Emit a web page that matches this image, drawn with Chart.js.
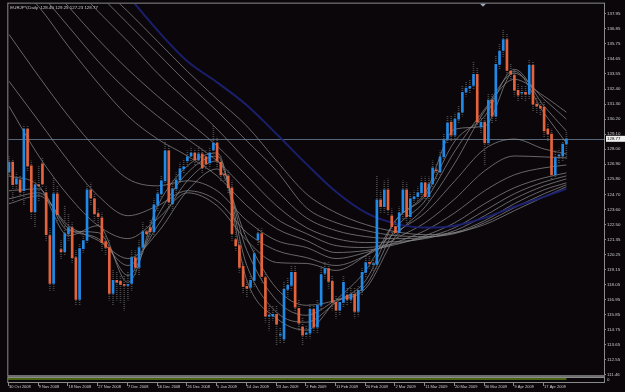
<!DOCTYPE html>
<html>
<head>
<meta charset="utf-8">
<script src="https://cdn.jsdelivr.net/npm/chart.js@4.4.0/dist/chart.umd.min.js"></script>
<style>
  html, body { margin: 0; padding: 0; background: #0a060a; }
  canvas { display: block; }
</style>
</head>
<body>
<canvas id="chart" width="625" height="392"></canvas>
<script>
// EURJPY daily, 30 Oct 2008 .. late Apr 2009 (one entry per bar)
const symbolName = 'EURJPY,Daily';

const openPrices = [
  126.34, 127.07, 125.47, 125.76, 124.96, 129.48, 126.78, 123.42, 125.40, 126.93,
  124.81, 121.67, 118.17, 124.74, 120.65, 120.50, 121.82, 122.26, 120.06, 117.00,
  120.72, 121.31, 125.03, 124.37, 123.28, 122.98, 121.23, 120.80, 117.44, 118.39,
  118.31, 118.09, 118.02, 118.17, 120.06, 119.34, 120.80, 121.96, 122.26, 121.96,
  123.93, 124.74, 125.69, 127.88, 124.01, 125.10, 125.76, 126.56, 127.15, 127.51,
  127.73, 127.22, 127.66, 127.44, 127.00, 127.95, 128.46, 127.07, 126.20, 126.05,
  125.18, 121.38, 120.94, 119.41, 117.95, 117.88, 118.39, 121.38, 121.82, 118.60,
  115.76, 115.76, 115.90, 114.37, 114.08, 117.73, 118.02, 118.97, 116.34, 114.96,
  114.44, 114.52, 116.27, 114.96, 116.56, 118.90, 119.26, 118.31, 116.78, 116.20,
  116.78, 117.29, 117.00, 117.36, 116.12, 117.66, 118.97, 119.70, 119.55, 119.55,
  124.30, 123.79, 125.03, 123.13, 122.33, 121.89, 123.35, 125.03, 123.06, 124.37,
  124.52, 124.81, 125.54, 124.52, 125.47, 126.49, 126.34, 127.44, 128.75, 129.99,
  129.04, 130.21, 130.72, 132.18, 132.48, 132.69, 133.50, 129.63, 129.99, 128.46,
  131.60, 130.43, 134.23, 135.25, 136.05, 133.72, 133.42, 132.33, 132.11, 132.18,
  132.04, 134.15, 131.31, 131.16, 131.09, 129.48, 129.12, 126.13, 127.51, 127.51,
  128.40
];
const highPrices = [
  127.51, 127.29, 126.27, 126.05, 129.77, 129.70, 127.15, 125.69, 126.78, 127.37,
  125.25, 122.18, 125.91, 125.32, 121.31, 123.86, 123.28, 122.62, 120.58, 121.09,
  121.89, 125.47, 125.54, 124.81, 123.64, 123.35, 121.67, 121.31, 119.12, 118.97,
  118.75, 118.68, 118.97, 120.58, 120.58, 121.31, 122.62, 122.40, 122.77, 124.37,
  125.10, 126.05, 128.61, 128.24, 125.69, 126.27, 127.00, 127.29, 127.88, 128.17,
  128.02, 128.24, 128.02, 127.88, 128.17, 129.70, 128.90, 127.51, 126.71, 126.42,
  125.69, 121.89, 121.31, 119.70, 118.39, 118.75, 120.72, 122.18, 122.18, 118.97,
  116.56, 116.56, 116.56, 114.88, 118.24, 118.53, 119.48, 119.48, 116.93, 115.61,
  115.10, 116.63, 116.71, 116.93, 119.48, 119.70, 119.70, 118.75, 117.29, 117.29,
  118.75, 117.80, 117.80, 117.80, 118.02, 119.26, 120.21, 120.21, 119.99, 126.05,
  124.96, 125.69, 125.83, 123.64, 122.77, 123.79, 125.69, 125.54, 124.81, 124.96,
  125.25, 125.98, 125.98, 125.98, 127.15, 126.93, 127.88, 129.12, 130.43, 130.43,
  130.65, 131.16, 132.62, 132.99, 133.13, 134.45, 134.01, 130.58, 130.43, 132.11,
  132.11, 134.81, 135.76, 136.78, 136.49, 134.30, 133.86, 132.77, 132.62, 132.62,
  134.59, 134.45, 131.82, 131.67, 131.53, 129.92, 129.48, 127.88, 128.02, 128.61,
  129.25
];
const lowPrices = [
  125.98, 124.23, 124.96, 124.44, 123.86, 126.42, 122.91, 122.33, 124.23, 125.18,
  121.31, 117.66, 117.66, 122.62, 119.99, 120.21, 121.31, 119.70, 116.56, 116.56,
  120.43, 121.09, 123.86, 122.77, 122.40, 120.58, 120.21, 116.93, 116.56, 116.93,
  116.78, 116.20, 116.93, 117.66, 118.75, 118.75, 120.43, 121.31, 121.31, 121.60,
  123.50, 124.37, 125.32, 123.64, 123.50, 124.81, 125.47, 126.27, 126.71, 127.15,
  126.78, 126.93, 126.27, 126.56, 126.64, 127.66, 126.71, 125.69, 125.69, 124.81,
  121.31, 120.58, 118.97, 117.44, 117.15, 117.51, 117.95, 120.94, 118.24, 115.32,
  114.74, 115.47, 113.64, 113.79, 113.79, 117.22, 117.66, 116.05, 114.74, 113.64,
  114.15, 114.15, 114.59, 114.52, 116.20, 118.53, 117.80, 116.20, 115.61, 115.83,
  116.42, 116.56, 116.71, 115.61, 115.76, 117.29, 118.60, 119.26, 119.12, 119.26,
  123.35, 123.35, 123.13, 121.67, 121.45, 121.53, 122.91, 122.62, 122.62, 123.93,
  124.23, 124.44, 124.15, 124.23, 125.10, 125.83, 126.05, 127.15, 128.46, 128.61,
  128.75, 129.92, 130.43, 131.89, 132.11, 132.40, 129.63, 129.12, 126.78, 128.17,
  129.92, 130.07, 133.86, 134.81, 133.35, 132.99, 131.89, 131.53, 131.67, 131.53,
  131.67, 130.80, 130.65, 130.50, 128.90, 128.61, 125.83, 125.83, 127.00, 127.15,
  127.23
];
const closePrices = [
  127.07, 125.40, 125.83, 124.88, 129.48, 126.78, 123.42, 125.40, 125.32, 125.47,
  121.74, 118.17, 124.74, 123.20, 120.50, 121.82, 122.26, 120.06, 117.00, 120.72,
  121.31, 125.03, 124.44, 123.28, 123.06, 121.16, 120.80, 117.44, 118.39, 118.24,
  118.09, 118.02, 118.09, 120.06, 119.34, 120.80, 121.96, 121.82, 121.96, 123.93,
  124.74, 125.69, 127.88, 124.15, 125.10, 125.76, 126.56, 126.71, 127.44, 127.73,
  127.22, 127.66, 126.64, 126.93, 127.73, 128.46, 127.15, 126.13, 126.13, 125.18,
  121.82, 120.94, 119.34, 117.95, 117.80, 118.39, 120.36, 121.82, 118.68, 115.76,
  115.83, 115.90, 115.17, 114.37, 117.73, 118.02, 118.97, 116.42, 115.25, 114.37,
  114.52, 116.27, 114.96, 116.56, 118.82, 119.26, 118.31, 116.78, 116.20, 116.78,
  118.24, 117.00, 117.36, 116.12, 117.66, 118.97, 119.70, 119.63, 119.55, 124.30,
  123.79, 125.03, 123.57, 122.33, 121.89, 123.35, 125.03, 123.06, 124.37, 124.52,
  124.81, 125.54, 124.52, 125.47, 126.64, 126.42, 127.44, 128.68, 129.92, 129.04,
  130.21, 130.65, 132.18, 132.48, 132.62, 133.50, 129.99, 129.99, 128.46, 131.60,
  130.43, 134.23, 135.18, 136.05, 133.79, 133.50, 132.33, 131.96, 132.11, 132.04,
  134.15, 131.31, 131.16, 131.02, 129.34, 129.12, 126.13, 127.37, 127.51, 128.39,
  128.77
];

// time axis labels (every 8th bar)
const dateTickIdx = [0, 8, 16, 24, 32, 40, 48, 56, 64, 72, 80, 88, 96, 104, 112, 120, 128, 136, 144];
const dateLabels = ['30 Oct 2008', '9 Nov 2008', '18 Nov 2008', '27 Nov 2008', '7 Dec 2008', '16 Dec 2008',
  '26 Dec 2008', '5 Jan 2009', '14 Jan 2009', '23 Jan 2009', '2 Feb 2009', '11 Feb 2009', '20 Feb 2009',
  '2 Mar 2009', '11 Mar 2009', '20 Mar 2009', '30 Mar 2009', '9 Apr 2009', '17 Apr 2009'];

// price scale labels as printed by the terminal
const priceTicks = [137.95, 136.85, 135.75, 134.65, 133.55, 132.40, 131.30, 130.20, 129.10, 128.00,
  126.90, 125.80, 124.70, 123.60, 122.50, 121.35, 120.25, 119.15, 118.05, 116.95,
  115.85, 114.75, 113.65, 112.55, 111.46];

// moving average lines, read at these bars
const maIdx = [0, 8, 16, 24, 32, 40, 48, 56, 64, 72, 80, 88, 96, 104, 112, 120, 128, 136, 144, 150];
const maBlue = [149.41, 146.86, 144.30, 141.75, 139.26, 136.71, 134.45, 132.91, 131.23, 129.12,
  126.93, 124.88, 123.35, 122.55, 122.26, 122.40, 122.98, 123.79, 124.52, 125.10];
const ma1 = [147.59, 145.03, 142.48, 140.14, 138.10, 135.91, 133.72, 131.67, 129.70, 127.15,
  124.74, 123.35, 122.48, 121.96, 121.74, 121.89, 122.48, 123.50, 124.52, 125.25];
const ma2 = [146.49, 143.94, 141.60, 139.41, 137.22, 135.03, 132.84, 130.80, 128.61, 126.42,
  123.72, 122.62, 122.04, 121.67, 121.60, 121.82, 122.62, 123.72, 124.74, 125.40];
const ma3 = [145.03, 142.62, 140.43, 138.10, 135.91, 133.57, 131.53, 129.48, 127.15, 124.96,
  122.98, 122.04, 121.60, 121.45, 121.53, 121.89, 122.77, 124.01, 125.03, 125.54];
const ma4 = [143.21, 140.87, 138.46, 136.05, 133.86, 131.89, 130.07, 128.24, 126.05, 123.86,
  122.26, 121.45, 121.16, 121.23, 121.45, 122.04, 123.13, 124.37, 125.32, 125.83];
const ma5 = [141.89, 139.56, 137.00, 134.45, 132.26, 130.43, 128.75, 127.15, 124.96, 122.91,
  121.82, 120.94, 120.80, 121.09, 121.53, 122.26, 123.50, 124.74, 125.61, 126.05];
const ma6 = [140.65, 138.46, 135.54, 132.84, 130.43, 128.75, 127.51, 126.05, 123.86, 122.18,
  121.31, 120.43, 120.58, 121.01, 121.67, 122.62, 124.01, 125.18, 125.91, 126.27];
const ma7 = [136.42, 133.35, 130.43, 127.88, 125.83, 125.32, 125.69, 124.96, 122.77, 121.31,
  120.80, 119.99, 120.43, 121.16, 122.04, 123.35, 124.96, 126.13, 126.64, 126.85];
const ma8 = [132.99, 130.07, 127.15, 124.59, 123.13, 123.86, 124.96, 124.23, 121.89, 120.58,
  120.06, 119.48, 120.21, 121.45, 122.62, 124.37, 126.42, 127.51, 127.44, 127.37];
const ma9 = [131.16, 127.51, 124.59, 122.40, 121.45, 122.91, 124.81, 123.86, 121.31, 119.70,
  119.63, 119.12, 120.21, 121.89, 123.35, 125.69, 128.02, 128.75, 128.02, 127.66];
const ma10 = [124.01, 124.59, 122.40, 121.31, 119.99, 121.89, 124.96, 126.56, 121.45, 117.80,
  116.56, 116.93, 117.80, 121.60, 123.79, 127.00, 130.80, 133.13, 131.89, 130.72];
const ma11 = [124.37, 124.81, 122.18, 121.45, 119.48, 122.40, 125.69, 127.15, 120.58, 116.93,
  115.83, 116.93, 118.02, 122.18, 124.23, 127.88, 130.94, 133.57, 131.67, 130.21];
const ma12 = [124.96, 125.10, 122.04, 121.89, 118.75, 123.13, 126.27, 127.51, 119.48, 116.05,
  115.32, 116.78, 118.39, 122.77, 124.59, 128.61, 130.43, 133.86, 131.16, 129.34];
const ma13 = [126.05, 125.32, 121.67, 122.40, 118.24, 123.86, 126.78, 127.73, 118.39, 115.61,
  114.74, 116.93, 119.12, 122.77, 124.81, 129.48, 129.70, 133.72, 130.65, 128.46];

const bullColor = '#2189e6';
const bearColor = '#e5633c';
const textColor = '#cfcfcf';
const frameColor = '#8a8a8a';
const axisFont = { family: 'Liberation Sans', size: 4.4 };
const dateFont = { family: 'Liberation Sans', size: 4 };

const grayLines = [ma1, ma2, ma3, ma4, ma5, ma6, ma7, ma8, ma9, ma10, ma11, ma12, ma13];

function toPoints(values) {
  return values.map((v, k) => ({ x: maIdx[k], y: v }));
}

// dotted look for the shadows
function dottedFill(color) {
  const c = document.createElement('canvas');
  c.width = 1;
  c.height = 2;
  const g = c.getContext('2d');
  g.fillStyle = color;
  g.fillRect(0, 0, 1, 1);
  return g.createPattern(c, 'repeat');
}

const lineSets = grayLines.map(values => ({
  type: 'line',
  data: toPoints(values),
  borderColor: 'rgba(140,140,140,0.72)',
  borderWidth: 1,
  pointRadius: 0,
  cubicInterpolationMode: 'monotone',
  order: 3
}));
lineSets.push({
  type: 'line',
  data: toPoints(maBlue),
  borderColor: 'rgba(28,34,118,0.9)',
  borderWidth: 2,
  pointRadius: 0,
  cubicInterpolationMode: 'monotone',
  order: 2
});

const wickSet = {
  type: 'bar',
  data: lowPrices.map((lo, i) => ({ x: i, y: [lo, highPrices[i]] })),
  backgroundColor: dottedFill('#464646'),
  barThickness: 1,
  grouped: false,
  order: 1
};

const bodySet = {
  type: 'bar',
  data: openPrices.map((o, i) => ({ x: i, y: [o, closePrices[i]] })),
  backgroundColor: ctx => closePrices[ctx.dataIndex] >= openPrices[ctx.dataIndex] ? bullColor : bearColor,
  barThickness: 2,
  minBarLength: 1,
  grouped: false,
  order: 0
};

// terminal decorations: frame, bid line, header, price box, sub-window
const terminalDecor = {
  id: 'terminalDecor',
  beforeDatasetsDraw(chart) {
    const { ctx, chartArea: a, scales: { y } } = chart;
    const last = closePrices[closePrices.length - 1];
    const py = Math.round(y.getPixelForValue(last)) + 0.5;
    ctx.save();
    ctx.strokeStyle = '#56677a';
    ctx.lineWidth = 1;
    ctx.beginPath();
    ctx.moveTo(a.left, py);
    ctx.lineTo(a.right, py);
    ctx.stroke();
    ctx.restore();
  },
  afterDraw(chart) {
    const { ctx, chartArea: a, scales: { x, y } } = chart;
    const n = closePrices.length - 1;
    ctx.save();
    ctx.strokeStyle = frameColor;
    ctx.lineWidth = 1;
    ctx.strokeRect(a.left - 0.5, a.top - 0.5, a.right - a.left + 1, a.bottom - a.top + 1);

    // indicator sub-window under the price pane
    ctx.fillStyle = '#6e6e6e';
    ctx.fillRect(a.left - 1, a.bottom, a.right - a.left + 2, 2);
    ctx.strokeRect(a.left - 0.5, a.bottom + 2.5, a.right - a.left + 1, 5);
    ctx.strokeStyle = '#86c21c';
    ctx.beginPath();
    ctx.moveTo(a.left, a.bottom + 4);
    ctx.lineTo(x.getPixelForValue(n), a.bottom + 4);
    ctx.stroke();

    ctx.font = '4.4px "Liberation Sans"';
    ctx.fillStyle = textColor;
    ctx.textBaseline = 'middle';
    ctx.textAlign = 'left';
    ctx.fillText('0', a.right + 3, a.bottom + 5);

    // date tick marks
    ctx.strokeStyle = frameColor;
    dateTickIdx.forEach(i => {
      const px = Math.round(x.getPixelForValue(i)) - 0.5;
      ctx.beginPath();
      ctx.moveTo(px, a.bottom + 8);
      ctx.lineTo(px, a.bottom + 11);
      ctx.stroke();
    });

    // header
    const hdr = symbolName + '  ' + openPrices[n].toFixed(2) + ' ' + highPrices[n].toFixed(2) + ' ' +
      lowPrices[n].toFixed(2) + ' ' + closePrices[n].toFixed(2);
    ctx.fillText(hdr, a.left + 2, a.top + 4);

    // current price box
    const py = y.getPixelForValue(closePrices[n]);
    ctx.fillStyle = '#f0f0f0';
    ctx.fillRect(a.right + 2, py - 3, 19, 6);
    ctx.fillStyle = '#000';
    ctx.fillText(closePrices[n].toFixed(2), a.right + 3, py);

    // chart shift marker
    ctx.fillStyle = '#9aa6b8';
    ctx.beginPath();
    ctx.moveTo(480, a.top);
    ctx.lineTo(486, a.top);
    ctx.lineTo(483, a.top + 3);
    ctx.closePath();
    ctx.fill();
    ctx.restore();
  }
};

const chart = new Chart(document.getElementById('chart'), {
  type: 'bar',
  data: { datasets: [bodySet, wickSet, ...lineSets] },
  plugins: [terminalDecor],
  options: {
    responsive: false,
    animation: false,
    layout: { padding: { left: 2, top: 2, right: 0, bottom: 0 } },
    plugins: { legend: { display: false }, tooltip: { enabled: false } },
    scales: {
      x: {
        type: 'linear',
        min: -0.186,
        max: 160.114,
        offset: false,
        grid: { display: false, offset: false, drawTicks: false },
        border: { display: false },
        afterBuildTicks: s => { s.ticks = dateTickIdx.map(v => ({ value: v })); },
        afterFit: s => { s.height = 17; },
        ticks: {
          callback: (v, i) => dateLabels[i],
          align: 'start',
          autoSkip: false,
          maxRotation: 0,
          padding: 9,
          color: textColor,
          font: dateFont
        }
      },
      y: {
        position: 'right',
        min: 111.45,
        max: 138.68,
        beginAtZero: false,
        border: { display: false },
        grid: { display: true, drawOnChartArea: false, drawTicks: true, tickLength: 2, color: frameColor },
        afterBuildTicks: s => { s.ticks = priceTicks.map(v => ({ value: v })); },
        afterFit: s => { s.width = 21; },
        ticks: {
          callback: v => v.toFixed(2),
          autoSkip: false,
          padding: 1,
          color: textColor,
          font: axisFont
        }
      }
    }
  }
});
</script>
</body>
</html>
